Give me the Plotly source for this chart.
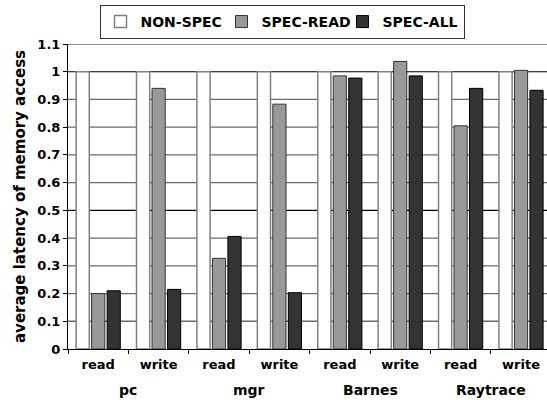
import plotly.graph_objects as go

# Benchmarks and access kinds
benchmarks = ["pc", "pc", "mgr", "mgr", "Barnes", "Barnes", "Raytrace", "Raytrace"]
access = ["read", "write", "read", "write", "read", "write", "read", "write"]

# Normalised average memory-access latency per configuration
non_spec = [1.0, 1.0, 1.0, 1.0, 1.0, 1.0, 1.0, 1.0]
spec_read = [0.20, 0.94, 0.327, 0.883, 0.985, 1.037, 0.805, 1.005]
spec_all = [0.21, 0.215, 0.406, 0.203, 0.977, 0.985, 0.94, 0.933]

y_ticks = [0, 0.1, 0.2, 0.3, 0.4, 0.5, 0.6, 0.7, 0.8, 0.9, 1, 1.1]
y_tick_text = ["0", "0.1", "0.2", "0.3", "0.4", "0.5", "0.6", "0.7", "0.8", "0.9", "1", "1.1"]
heavy_grid = [0.5, 1.0]
light_grid = [v for v in y_ticks if v not in heavy_grid and v != 0]

pos = list(range(len(access)))
boundaries = [p - 0.5 for p in pos] + [pos[-1] + 0.5]

fig = go.Figure()
fig.add_trace(go.Bar(x=pos, y=non_spec, name="NON-SPEC",
                     marker=dict(color="white", line=dict(color="#808080", width=1.5))))
fig.add_trace(go.Bar(x=pos, y=spec_read, name="SPEC-READ",
                     marker=dict(color="#999999", line=dict(color="#333333", width=1))))
fig.add_trace(go.Bar(x=pos, y=spec_all, name="SPEC-ALL",
                     marker=dict(color="#333333", line=dict(color="black", width=1))))

# horizontal grid: grey every 0.1, black at 0.5 and 1.0, all beneath the bars
for v in light_grid:
    fig.add_shape(type="line", xref="paper", x0=0, x1=1, yref="y", y0=v, y1=v,
                  line=dict(color="#6a6a6a", width=1.3), layer="between")
for v in heavy_grid:
    fig.add_shape(type="line", xref="paper", x0=0, x1=1, yref="y", y0=v, y1=v,
                  line=dict(color="black", width=1.2), layer="between")

# benchmark names centred under their pair of bars
groups = []
for name in benchmarks:
    if name not in groups:
        groups.append(name)
for name in groups:
    members = [p for p, b in zip(pos, benchmarks) if b == name]
    fig.add_annotation(x=sum(members) / len(members), xref="x", y=-0.134, yref="paper",
                       text=name, showarrow=False, yanchor="middle",
                       font=dict(size=14))

fig.update_layout(
    width=547, height=400,
    margin=dict(l=68, r=0, t=44, b=51),
    paper_bgcolor="white", plot_bgcolor="white",
    font=dict(family="DejaVu Sans", size=13, color="black", weight="bold"),
    barmode="group", bargap=0.23, bargroupgap=0.15,
    showlegend=True,
    legend=dict(orientation="h", x=(282 - 68) / 479, xanchor="center", y=1.128, yanchor="top",
                bordercolor="#333333", borderwidth=1, bgcolor="white",
                font=dict(size=14), traceorder="normal",
                entrywidth=76, entrywidthmode="pixels"),
    xaxis=dict(range=[-0.5, 7.43], tickvals=pos, ticktext=access,
               showline=True, linecolor="black", linewidth=1,
               ticks="", ticklabelstandoff=3, showgrid=False, zeroline=False,
               tickfont=dict(size=13),
               minor=dict(tickvals=boundaries, ticks="outside", ticklen=4,
                          tickcolor="black", showgrid=False)),
    yaxis=dict(range=[0, 1.1], tickvals=y_ticks, ticktext=y_tick_text,
               showline=True, linecolor="black", linewidth=1,
               ticks="outside", ticklen=4, tickcolor="black",
               showgrid=False, zeroline=False,
               title=dict(text="average latency of memory access",
                          font=dict(size=15), standoff=8)),
)

fig.write_html("out.html")
